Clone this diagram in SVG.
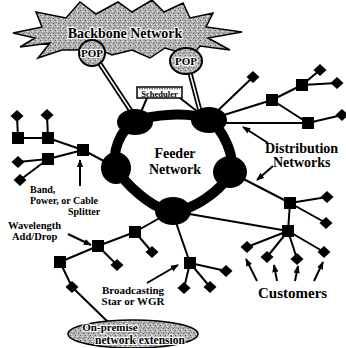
<svg xmlns="http://www.w3.org/2000/svg" xmlns:xlink="http://www.w3.org/1999/xlink" width="346" height="348" viewBox="0 0 346 348">
<style>
.t{font-family:"Liberation Serif","Times New Roman",serif;font-weight:bold;fill:#000}
.ln{stroke:#000;stroke-width:2;fill:none}
.ar{stroke:#000;stroke-width:2;fill:none;marker-end:url(#ah)}
.blob{fill:#000}
.tex{fill:url(#tex);stroke:#000}
.halo{paint-order:stroke;stroke:#fff;stroke-width:2.2px;stroke-linejoin:round}
</style>
<defs>
<pattern id="tex" width="5" height="5" patternUnits="userSpaceOnUse">
<rect width="5" height="5" fill="#b4b4b4"/>
<rect x="0" y="0" width="1" height="1" fill="#5a5a5a"/>
<rect x="2" y="1" width="1" height="1" fill="#eeeeee"/>
<rect x="3" y="3" width="1" height="1" fill="#666"/>
<rect x="1" y="4" width="1" height="1" fill="#e6e6e6"/>
<rect x="4" y="2" width="1" height="1" fill="#858585"/>
<rect x="1" y="2" width="1" height="1" fill="#909090"/>
</pattern>
<marker id="ah" viewBox="0 0 10 10" refX="9" refY="5" markerWidth="8" markerHeight="8" markerUnits="userSpaceOnUse" orient="auto"><path d="M0,1 L10,5 L0,9 z" fill="#000"/></marker>
<path id="dia" d="M-6.5,0 L0,-6 L6.5,0 L0,6 Z" fill="#000"/>
<rect id="sq" x="-6" y="-6" width="12" height="12" fill="#000"/>
</defs>
<rect width="346" height="348" fill="#fff"/>

<g id="backbone">
<polygon class="tex" stroke-width="1.5" points="13,33 42,27 36,12 66,18 80,2 96,14 118,2 132,12 152,0 164,12 183,3 190,18 213,13 206,27 242,32 208,38 230,50 200,46 192,56 165,48 150,58 132,50 112,55 96,48 75,50 62,50 38,58 50,43 20,47 35,38"/>
<text class="t halo" x="125" y="38" font-size="14" text-anchor="middle">Backbone Network</text>
</g>

<g id="connectors">
<line x1="100" y1="64" x2="133" y2="114" stroke="#000" stroke-width="5"/>
<line x1="100" y1="64" x2="133" y2="114" stroke="#fff" stroke-width="1.5"/>
<line x1="190" y1="73" x2="200" y2="111" stroke="#000" stroke-width="5"/>
<line x1="190" y1="73" x2="200" y2="111" stroke="#fff" stroke-width="1.5"/>
<g class="ln">
<line x1="147" y1="98" x2="141" y2="112"/>
<line x1="180" y1="98" x2="198" y2="112"/>
<line x1="117" y1="168" x2="83" y2="150"/>
<line x1="83" y1="150" x2="48" y2="138"/>
<line x1="83" y1="150" x2="48" y2="159"/>
<line x1="48" y1="138" x2="18" y2="138"/>
<line x1="18" y1="138" x2="17" y2="116"/>
<line x1="48" y1="138" x2="47" y2="115"/>
<line x1="48" y1="159" x2="18" y2="162"/>
<line x1="48" y1="159" x2="20" y2="180"/>
<line x1="208" y1="120" x2="253" y2="77"/>
<line x1="208" y1="120" x2="272" y2="100"/>
<line x1="208" y1="123" x2="308" y2="123"/>
<line x1="272" y1="100" x2="302" y2="85"/>
<line x1="302" y1="85" x2="320" y2="70"/>
<line x1="302" y1="85" x2="337" y2="83"/>
<line x1="272" y1="100" x2="308" y2="123"/>
<line x1="308" y1="123" x2="342" y2="115"/>
<line x1="230" y1="172" x2="290" y2="203"/>
<line x1="290" y1="203" x2="327" y2="197"/>
<line x1="290" y1="203" x2="326" y2="223"/>
<line x1="290" y1="203" x2="288" y2="231"/>
<line x1="172" y1="211" x2="288" y2="231"/>
<line x1="288" y1="231" x2="247" y2="247"/>
<line x1="288" y1="231" x2="267" y2="257"/>
<line x1="288" y1="231" x2="297" y2="259"/>
<line x1="288" y1="231" x2="324" y2="252"/>
<line x1="172" y1="211" x2="190" y2="263"/>
<line x1="190" y1="263" x2="226" y2="271"/>
<line x1="190" y1="263" x2="184" y2="288"/>
<line x1="190" y1="263" x2="210" y2="287"/>
<line x1="172" y1="211" x2="135" y2="232"/>
<line x1="135" y1="232" x2="152" y2="252"/>
<line x1="135" y1="232" x2="98" y2="246"/>
<line x1="98" y1="246" x2="117" y2="265"/>
<line x1="98" y1="246" x2="60" y2="262"/>
<line x1="60" y1="262" x2="72" y2="287"/>
<line x1="72" y1="287" x2="108" y2="322"/>
</g>
<g class="ar">
<line x1="80" y1="186" x2="80" y2="160"/>
<line x1="268" y1="143" x2="243" y2="127"/>
<line x1="273" y1="166" x2="257" y2="180"/>
<line x1="68" y1="234" x2="91" y2="245"/>
<line x1="147" y1="283" x2="178" y2="265"/>
<line x1="257" y1="281" x2="246" y2="259"/>
<line x1="277" y1="281" x2="274" y2="265"/>
<line x1="295" y1="281" x2="298" y2="266"/>
<line x1="314" y1="281" x2="323" y2="262"/>
</g>
</g>

<g id="pop-left">
<ellipse class="tex" stroke-width="2" cx="92" cy="53" rx="13" ry="13"/>
<text class="t halo" x="92" y="57" font-size="11" text-anchor="middle">POP</text>
</g>
<g id="pop-right">
<ellipse class="tex" stroke-width="2" cx="186" cy="61" rx="16" ry="13"/>
<text class="t halo" x="186" y="65" font-size="11" text-anchor="middle">POP</text>
</g>

<g id="scheduler">
<rect x="137" y="87" width="45" height="11" fill="#fff" stroke="#000" stroke-width="1.5"/>
<line x1="139" y1="88.8" x2="180" y2="88.8" stroke="#000" stroke-width="0.8" stroke-dasharray="1.5,1"/>
<text class="t" x="159.5" y="96.5" font-size="8.5" text-anchor="middle">Scheduler</text>
</g>

<g id="feeder-network">
<path d="M135,122 C150.2,114 192,111.3 208,120 C224,128.7 236,158.8 230,172 C224,189.2 191,212 172,211 C153,210 123.2,182.8 117,168 C110.8,153.2 119.8,130 135,122 Z" fill="none" stroke="#000" stroke-width="10"/>
<text class="t" x="175" y="158" font-size="14">
<tspan x="175" text-anchor="middle">Feeder</tspan>
</text>
<text class="t" x="175" y="174" font-size="14" text-anchor="middle">Network</text>
</g>
<g id="node-tl"><ellipse class="blob" cx="135" cy="122" rx="18" ry="13"/></g>
<g id="node-tr"><ellipse class="blob" cx="209" cy="120" rx="18" ry="13"/></g>
<g id="node-r"><ellipse class="blob" cx="230" cy="172" rx="17" ry="16"/></g>
<g id="node-b"><ellipse class="blob" cx="173" cy="211" rx="18" ry="14"/></g>
<g id="node-l"><ellipse class="blob" cx="116" cy="168" rx="15" ry="16"/></g>

<g id="squares">
<use href="#sq" x="18" y="138"/><use href="#sq" x="48" y="138"/><use href="#sq" x="48" y="159"/>
<use href="#sq" x="83" y="150"/><use href="#sq" x="272" y="100"/><use href="#sq" x="302" y="85"/>
<use href="#sq" x="308" y="123"/><use href="#sq" x="290" y="203"/><use href="#sq" x="288" y="231"/>
<use href="#sq" x="190" y="263"/><use href="#sq" x="135" y="232"/><use href="#sq" x="98" y="246"/>
<use href="#sq" x="60" y="262"/>
</g>
<g id="diamonds">
<use href="#dia" x="17" y="116"/><use href="#dia" x="47" y="115"/><use href="#dia" x="18" y="162"/>
<use href="#dia" x="20" y="180"/><use href="#dia" x="253" y="77"/><use href="#dia" x="320" y="70"/>
<use href="#dia" x="337" y="83"/><use href="#dia" x="342" y="115"/><use href="#dia" x="327" y="197"/>
<use href="#dia" x="326" y="223"/><use href="#dia" x="247" y="247"/><use href="#dia" x="267" y="257"/>
<use href="#dia" x="297" y="259"/><use href="#dia" x="324" y="252"/><use href="#dia" x="226" y="271"/>
<use href="#dia" x="184" y="288"/><use href="#dia" x="210" y="287"/><use href="#dia" x="152" y="252"/>
<use href="#dia" x="117" y="265"/><use href="#dia" x="72" y="287"/>
</g>

<g id="on-premise">
<ellipse class="tex" stroke-width="1.5" cx="133" cy="334" rx="65" ry="14"/>
<text class="t halo" x="110" y="331" font-size="11" text-anchor="middle">On-premise</text>
<text class="t halo" x="140" y="344" font-size="11.5" text-anchor="middle">network extension</text>
</g>

<g id="labels">
<text class="t" x="265" y="153" font-size="14">Distribution</text>
<text class="t" x="273" y="167" font-size="14">Networks</text>
<text class="t" x="30" y="193" font-size="10">Band,</text>
<text class="t" x="30" y="204" font-size="10">Power, or Cable</text>
<text class="t" x="68" y="215" font-size="10">Splitter</text>
<text class="t" x="8" y="229" font-size="10.5">Wavelength</text>
<text class="t" x="12" y="240" font-size="10.5">Add/Drop</text>
<text class="t" x="133" y="294" font-size="11" text-anchor="middle">Broadcasting</text>
<text class="t" x="133" y="305" font-size="11" text-anchor="middle">Star or WGR</text>
<text class="t" x="258" y="298" font-size="15">Customers</text>
</g>
</svg>
